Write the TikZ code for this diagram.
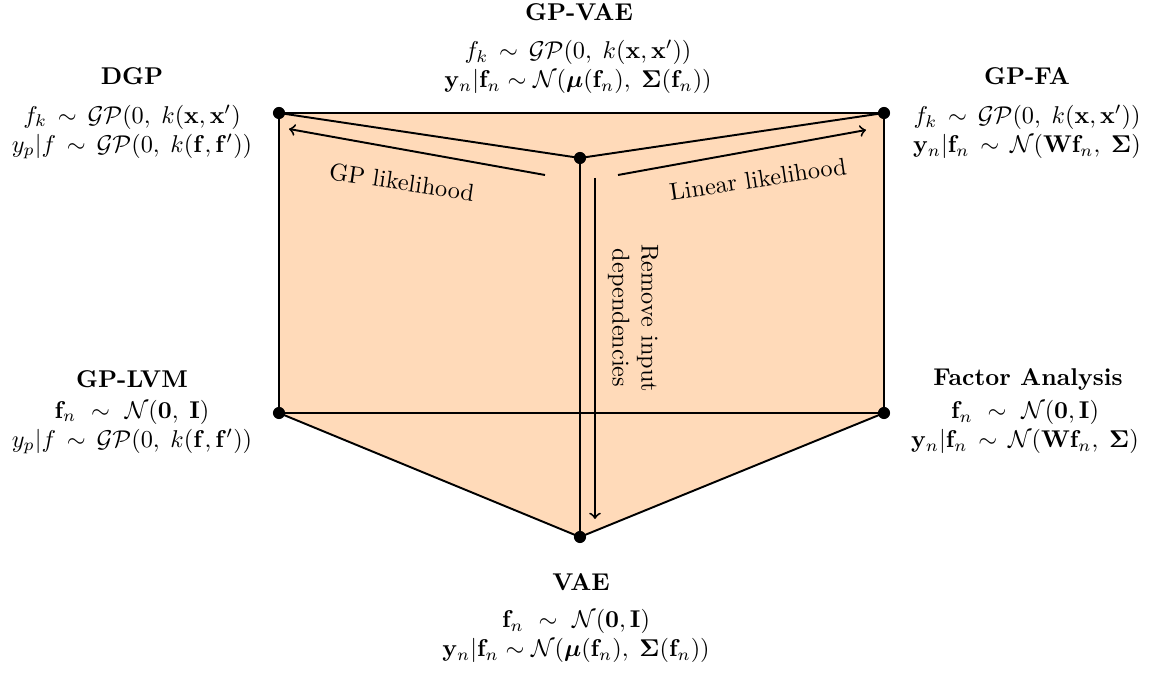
\documentclass[tikz,border=0pt]{standalone}
\usepackage{amsmath,amssymb,bm}
\definecolor{peach}{RGB}{255,218,185}
\begin{document}
\begin{tikzpicture}[x=0.412pt,y=-0.412pt,
  dot/.style={circle,fill=black,inner sep=0pt,minimum size=5pt},
  edge/.style={line width=0.8pt},
  arr/.style={line width=0.8pt,->},
  ttl/.style={font=\bfseries,anchor=center},
  eq/.style={align=center,anchor=center,inner sep=0pt}]
\useasboundingbox (0,0) rectangle (1158,673);
\coordinate (A) at (279,113);
\coordinate (B) at (884,113);
\coordinate (C) at (580,158);
\coordinate (D) at (279,413);
\coordinate (E) at (884,413);
\coordinate (F) at (580,537);
\fill[peach] (A) -- (B) -- (E) -- (F) -- (D) -- cycle;
\draw[edge] (A) -- (B);
\draw[edge] (A) -- (C);
\draw[edge] (C) -- (B);
\draw[edge] (A) -- (D);
\draw[edge] (B) -- (E);
\draw[edge] (C) -- (F);
\draw[edge] (D) -- (E);
\draw[edge] (D) -- (F);
\draw[edge] (F) -- (E);
\node[dot] (dgp) at (A) {};
\node[dot] (gpfa) at (B) {};
\node[dot] (gpvae) at (C) {};
\node[dot] (gplvm) at (D) {};
\node[dot] (fa) at (E) {};
\node[dot] (vae) at (F) {};
% arrows
\coordinate (gl1) at (545,175); \coordinate (gl2) at (289,129);
\coordinate (ll1) at (618,175); \coordinate (ll2) at (866,130);
\coordinate (ri1) at (595,178); \coordinate (ri2) at (595,519);
\draw[arr] (gl1) -- (gl2);
\draw[arr] (ll1) -- (ll2);
\draw[arr] (ri1) -- (ri2);
\node[rotate=-8.5] (glab) at (402,182) {GP likelihood};
\node[rotate=8.5] (llab) at (758,179) {Linear likelihood};
\node[rotate=-90,align=center] (rlab) at (633,318) {Remove input\\dependencies};
% labels
\node[ttl] (t1) at (579,12) {GP-VAE};
\node[eq] (e1) at (578,67) {$f_k\,\sim\,\mathcal{GP}(0,\;k(\mathbf{x},\mathbf{x}'))$\\$\mathbf{y}_n|\mathbf{f}_n \sim \mathcal{N}(\boldsymbol{\mu}(\mathbf{f}_n),\;\boldsymbol{\Sigma}(\mathbf{f}_n))$};
\node[ttl] (t2) at (132,76) {DGP};
\node[eq] (e2) at (132,132) {$f_k\,\sim\,\mathcal{GP}(0,\;k(\mathbf{x},\mathbf{x}')$\\$y_p|f\,\sim\,\mathcal{GP}(0,\;k(\mathbf{f},\mathbf{f}'))$};
\node[ttl] (t3) at (1027,76) {GP-FA};
\node[eq] (e3) at (1027,132) {$f_k\,\sim\,\mathcal{GP}(0,\;k(\mathbf{x},\mathbf{x}'))$\\$\mathbf{y}_n|\mathbf{f}_n\,\sim\,\mathcal{N}(\mathbf{W}\mathbf{f}_n,\;\boldsymbol{\Sigma})$};
\node[ttl] (t4) at (132,379) {GP-LVM};
\node[eq] (e4) at (132,427) {$\mathbf{f}_n\ \sim\ \mathcal{N}(\mathbf{0},\;\mathbf{I})$\\$y_p|f\,\sim\,\mathcal{GP}(0,\;k(\mathbf{f},\mathbf{f}'))$};
\node[ttl] (t5) at (1028,379) {Factor Analysis};
\node[eq] (e5) at (1025,427) {$\mathbf{f}_n\ \sim\ \mathcal{N}(\mathbf{0},\mathbf{I})$\\$\mathbf{y}_n|\mathbf{f}_n\,\sim\,\mathcal{N}(\mathbf{W}\mathbf{f}_n,\;\boldsymbol{\Sigma})$};
\node[ttl] (t6) at (581,582) {VAE};
\node[eq] (e6) at (576,636) {$\mathbf{f}_n\ \sim\ \mathcal{N}(\mathbf{0},\mathbf{I})$\\$\mathbf{y}_n|\mathbf{f}_n \sim \mathcal{N}(\boldsymbol{\mu}(\mathbf{f}_n),\;\boldsymbol{\Sigma}(\mathbf{f}_n))$};
\end{tikzpicture}
\end{document}
